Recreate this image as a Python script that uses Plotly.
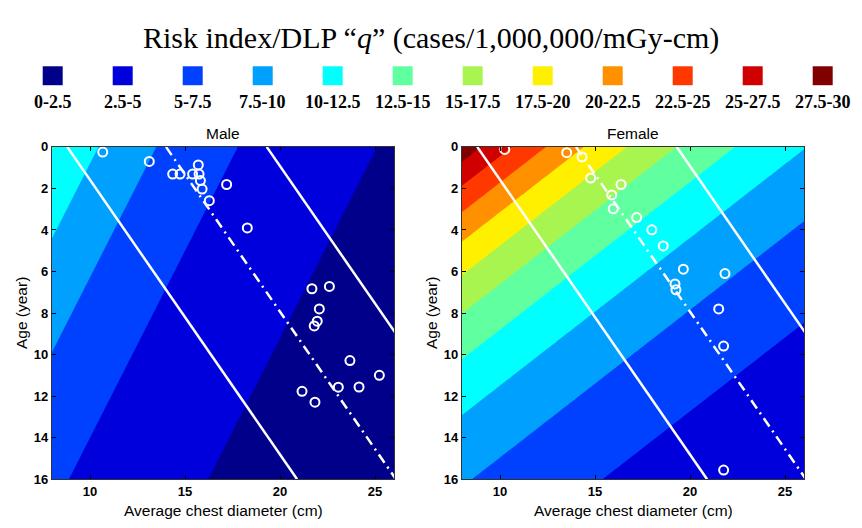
import numpy as np
import plotly.graph_objects as go

# ---------------- data ----------------
level_labels = ["0-2.5", "2.5-5", "5-7.5", "7.5-10", "10-12.5", "12.5-15",
                "15-17.5", "17.5-20", "20-22.5", "22.5-25", "25-27.5", "27.5-30"]
level_colors = ["#00008B", "#0000DC", "#0040FF", "#00A0FF", "#00FFFF", "#60FFA0",
                "#A8F550", "#FFF000", "#FF9000", "#FF3800", "#D00000", "#800000"]
level_step = 2.5
level_max = 30

# risk index q (cases/1,000,000/mGy-cm):
# q = q_ref * exp(-kd*(diameter-8) - ka*age)
male_q_ref, male_kd, male_ka = 12.6, 0.0945, 0.0525
female_q_ref, female_kd, female_ka = 29.2, 0.059, 0.083

diam_grid = np.linspace(8, 26, 181)
age_grid = np.linspace(0, 16, 161)

# white reference lines (age -> diameter)
line_ages = [0, 16]
lower_line_diam = [8.8, 20.9]
mean_line_diam = [14.0, 26.1]
upper_line_diam = [19.3, 31.4]

# patient points
male_diam = [10.67, 13.12, 14.35, 14.74, 15.40, 15.70, 15.74, 15.81, 15.90, 16.28, 17.19,
             18.28, 21.68, 22.60, 22.07, 21.96, 21.80, 23.68, 25.23, 21.16, 21.84, 23.07, 24.16]
male_age = [0.25, 0.70, 1.31, 1.31, 1.31, 0.87, 1.31, 1.62, 2.03, 2.59, 1.81,
            3.90, 6.83, 6.72, 7.80, 8.39, 8.62, 10.29, 11.00, 11.77, 12.29, 11.57, 11.56]
female_diam = [10.25, 13.51, 14.32, 14.77, 16.37, 15.88, 15.96, 17.19, 17.99, 18.59,
               19.65, 21.84, 19.21, 19.26, 21.51, 21.77, 21.77]
female_age = [0.12, 0.28, 0.48, 1.50, 1.81, 2.31, 2.98, 3.40, 3.99, 4.77,
              5.89, 6.10, 6.60, 6.88, 7.80, 9.59, 15.56]

x_ticks = [10, 15, 20, 25]
y_ticks = [0, 2, 4, 6, 8, 10, 12, 14, 16]

# ---------------- figure ----------------
W, H = 862, 528
n = len(level_colors)
cs = []
for k, c in enumerate(level_colors):
    lo = 0 if k == 0 else (k + 0.5) / (n + 1)
    hi = 1 if k == n - 1 else (k + 1.5) / (n + 1)
    cs.append([lo, c])
    cs.append([hi, c])

D, A = np.meshgrid(diam_grid, age_grid)


def surface(q_ref, kd, ka):
    return q_ref * np.exp(-kd * (D - 8) - ka * A)


fig = go.Figure()

panels = [
    ("x", "y", surface(male_q_ref, male_kd, male_ka), male_diam, male_age),
    ("x2", "y2", surface(female_q_ref, female_kd, female_ka), female_diam, female_age),
]
for xa, ya, z, pdx, pdy in panels:
    fig.add_trace(go.Contour(
        x=diam_grid, y=age_grid, z=z, xaxis=xa, yaxis=ya,
        autocontour=False,
        contours=dict(start=0, end=level_max, size=level_step, coloring="fill", showlines=False),
        line=dict(width=0), colorscale=cs, zmin=0, zmax=level_max,
        showscale=False, hoverinfo="skip"))
    for dl, dash in [(lower_line_diam, "solid"), (upper_line_diam, "solid"),
                     (mean_line_diam, "10px,5px,2px,5px")]:
        fig.add_trace(go.Scatter(x=dl, y=line_ages, xaxis=xa, yaxis=ya, mode="lines",
                                 line=dict(color="white", width=2.5, dash=dash),
                                 showlegend=False, hoverinfo="skip"))
    fig.add_trace(go.Scatter(x=pdx, y=pdy, xaxis=xa, yaxis=ya, mode="markers",
                             marker=dict(symbol="circle-open", size=9, color="white",
                                         line=dict(width=2, color="white")),
                             showlegend=False, hoverinfo="skip"))

y0p = 1 - 486 / H
y1p = 1 - 144 / H
tickfont = dict(family="Liberation Sans, Arial", size=13, color="black", weight="bold")
xcommon = dict(range=[8, 26], tickvals=x_ticks, ticks="inside", ticklen=4, tickcolor="black",
               showline=True, linecolor="#333", linewidth=1.2, mirror="ticks",
               showgrid=False, zeroline=False, tickfont=tickfont)
ycommon = dict(range=[16, 0], tickvals=y_ticks, ticks="inside", ticklen=4, tickcolor="black",
               showline=True, linecolor="#333", linewidth=1.2, mirror="ticks",
               showgrid=False, zeroline=False, tickfont=tickfont)

fig.update_layout(
    width=W, height=H, margin=dict(l=0, r=0, t=0, b=0),
    paper_bgcolor="white", plot_bgcolor="white", showlegend=False,
    xaxis=dict(domain=[52 / W, 394 / W], anchor="y", **xcommon),
    yaxis=dict(domain=[y0p, y1p], anchor="x", **ycommon),
    xaxis2=dict(domain=[462 / W, 804 / W], anchor="y2", **xcommon),
    yaxis2=dict(domain=[y0p, y1p], anchor="x2", **ycommon),
)

ann = []
shapes = []
# title
ann.append(dict(text="Risk index/DLP \u201c<i>q</i>\u201d (cases/1,000,000/mGy-cm)",
                x=431 / W, y=1 - 32 / H, xref="paper", yref="paper", showarrow=False,
                xanchor="center", yanchor="middle",
                font=dict(family="Liberation Serif, Times New Roman", size=30, color="black")))
# legend
for i, (lab, col) in enumerate(zip(level_labels, level_colors)):
    x0 = 42.7 + 70 * i
    shapes.append(dict(type="rect", xref="paper", yref="paper",
                       x0=x0 / W, x1=(x0 + 20) / W, y0=1 - 80.5 / H, y1=1 - 61 / H,
                       fillcolor=col, line=dict(width=0)))
    ann.append(dict(text=lab, x=(x0 + 10) / W, y=1 - 98 / H, xref="paper", yref="paper",
                    showarrow=False, xanchor="center", yanchor="middle",
                    font=dict(family="Liberation Serif, Times New Roman", size=18,
                              color="black", weight="bold")))
sans = dict(family="Liberation Sans, Arial", size=15.5, color="black")
for cx, name in [(223, "Male"), (633, "Female")]:
    ann.append(dict(text=name, x=cx / W, y=1 - 130 / H, xref="paper", yref="paper",
                    showarrow=False, xanchor="center", yanchor="middle", font=sans))
    ann.append(dict(text="Average chest diameter (cm)", x=cx / W, y=1 - 518 / H,
                    xref="paper", yref="paper", showarrow=False,
                    xanchor="center", yanchor="middle", font=sans))
for cx in [21, 431]:
    ann.append(dict(text="Age (year)", x=cx / W, y=1 - 315 / H, xref="paper", yref="paper",
                    showarrow=False, xanchor="center", yanchor="middle", textangle=-90,
                    font=sans))
fig.update_layout(annotations=ann, shapes=shapes)

fig.write_html("out.html")
